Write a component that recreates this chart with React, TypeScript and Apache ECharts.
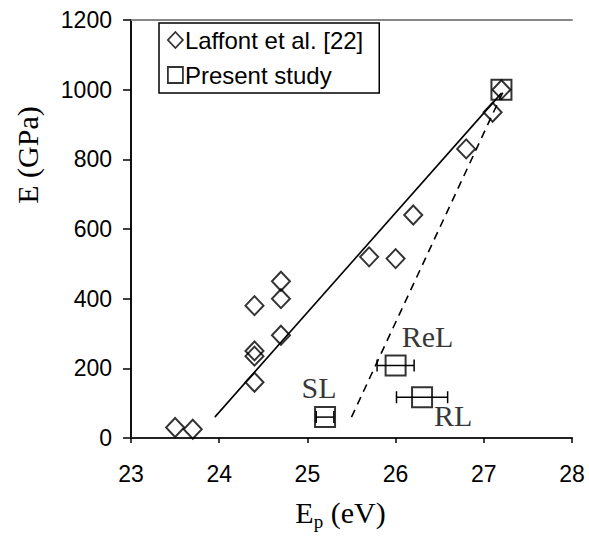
import React, { useEffect, useRef } from "react";
import * as echarts from "echarts";

const laffontEp = [23.5, 23.7, 24.4, 24.4, 24.4, 24.4, 24.7, 24.7, 24.7, 25.7, 26.0, 26.2, 26.8, 27.1, 27.2];
const laffontE = [30, 25, 160, 235, 250, 380, 295, 400, 450, 520, 515, 640, 830, 935, 1000];

const presentNames = ["SL", "ReL", "RL", ""];
const presentEp = [25.2, 26.0, 26.3, 27.2];
const presentE = [60, 208, 117, 1000];
const presentErr = [0.1, 0.21, 0.29, 0];

const solidFitEp = [23.95, 27.2];
const solidFitE = [60, 990];
const dashedFitEp = [25.5, 27.22];
const dashedFitE = [60, 995];

const xTicks = [23, 24, 25, 26, 27, 28];
const yTicks = [0, 200, 400, 600, 800, 1000, 1200];

const labelOffsets: [number, number][] = [[-6, -30], [32, -29], [31, 18], [0, 0]];

const SANS = 'Arial, "Liberation Sans", sans-serif';
const SERIF = '"Times New Roman", "Liberation Serif", serif';

export default function App() {
  const ref = useRef<HTMLDivElement>(null);
  useEffect(() => {
    if (!ref.current) return;
    const chart = echarts.init(ref.current, undefined, { renderer: "svg" });
    const hollow = { color: "transparent", borderColor: "#000", borderWidth: 1.8 };
    const option: any = {
      animation: false,
      backgroundColor: "#fff",
      grid: { left: 131, right: 17, top: 20, bottom: 96, containLabel: false },
      legend: {
        orient: "vertical",
        left: 159,
        top: 23,
        padding: [5, 16, 6, 8],
        itemGap: 11,
        itemWidth: 15,
        itemHeight: 16,
        borderColor: "#000",
        borderWidth: 1.5,
        backgroundColor: "#fff",
        textStyle: { fontFamily: SANS, fontSize: 24, color: "#000", padding: [0, 0, 0, -3] },
        data: [
          { name: "Laffont et al. [22]", icon: "diamond", itemStyle: hollow },
          { name: "Present study", icon: "rect", itemStyle: hollow },
        ],
      },
      xAxis: [
        {
          type: "value",
          min: xTicks[0],
          max: xTicks[xTicks.length - 1],
          interval: 1,
          position: "bottom",
          axisLine: { show: true, onZero: false, lineStyle: { color: "#222", width: 2 } },
          axisTick: { show: true, inside: false, length: 5, lineStyle: { color: "#000", width: 1.5 } },
          axisLabel: { fontFamily: SANS, fontSize: 23, color: "#000", margin: 24, formatter: (v: number) => String(v) },
          splitLine: { show: false },
          name: "{e|E}{s|p}{e| (eV)}",
          nameLocation: "middle",
          nameGap: 56,
          nameTextStyle: {
            padding: [0, 22, 0, 0],
            rich: {
              e: { fontFamily: SERIF, fontSize: 30, color: "#000" },
              s: { fontFamily: SERIF, fontSize: 19, color: "#000", padding: [18, 0, 0, 0] },
            },
          },
        },
        {
          type: "value",
          min: xTicks[0],
          max: xTicks[xTicks.length - 1],
          position: "top",
          axisLine: { show: true, onZero: false, lineStyle: { color: "#888", width: 2 } },
          axisTick: { show: false },
          axisLabel: { show: false },
          splitLine: { show: false },
        },
      ],
      yAxis: {
        type: "value",
        min: yTicks[0],
        max: yTicks[yTicks.length - 1],
        interval: 200,
        axisLine: { show: true, onZero: false, lineStyle: { color: "#111", width: 2 } },
        axisTick: { show: true, inside: false, length: 8, lineStyle: { color: "#000", width: 1.5 } },
        axisLabel: { fontFamily: SANS, fontSize: 23, color: "#000", margin: 19, formatter: (v: number) => String(v) },
        splitLine: { show: false },
      },
      graphic: [
        {
          type: "text",
          x: 27,
          y: 155,
          rotation: Math.PI / 2,
          style: {
            text: "E (GPa)",
            fontFamily: SERIF,
            fontSize: 30,
            fill: "#000",
            align: "center",
            verticalAlign: "middle",
          },
        },
      ],
      series: [
        {
          name: "fit-solid",
          type: "line",
          data: solidFitEp.map((x, i) => [x, solidFitE[i]]),
          showSymbol: false,
          symbol: "none",
          lineStyle: { color: "#000", width: 1.6, type: "solid" },
          z: 1,
        },
        {
          name: "fit-dashed",
          type: "line",
          data: dashedFitEp.map((x, i) => [x, dashedFitE[i]]),
          showSymbol: false,
          symbol: "none",
          lineStyle: { color: "#000", width: 1.6, type: [8, 6] },
          z: 1,
        },
        {
          name: "Laffont et al. [22]",
          type: "scatter",
          symbol: "diamond",
          symbolSize: [18, 19],
          itemStyle: { color: "transparent", borderColor: "#000", borderWidth: 2 },
          data: laffontEp.map((x, i) => [x, laffontE[i]]),
          z: 3,
        },
        {
          name: "errors",
          type: "custom",
          data: presentEp.map((x, i) => [x, presentE[i], presentErr[i]]),
          renderItem: (params: any, api: any) => {
            const x = api.value(0);
            const y = api.value(1);
            const e = api.value(2);
            if (!e) return { type: "group", children: [] };
            const lo = api.coord([x - e, y]);
            const hi = api.coord([x + e, y]);
            const st = { stroke: "#000", lineWidth: 1.5 };
            return {
              type: "group",
              children: [
                { type: "line", shape: { x1: lo[0], y1: lo[1], x2: hi[0], y2: hi[1] }, style: st },
                { type: "line", shape: { x1: lo[0], y1: lo[1] - 6, x2: lo[0], y2: lo[1] + 6 }, style: st },
                { type: "line", shape: { x1: hi[0], y1: hi[1] - 6, x2: hi[0], y2: hi[1] + 6 }, style: st },
              ],
            };
          },
          z: 2,
        },
        {
          name: "Present study",
          type: "scatter",
          symbol: "rect",
          symbolSize: 20,
          itemStyle: { color: "transparent", borderColor: "#000", borderWidth: 2 },
          data: presentEp.map((x, i) => ({
            value: [x, presentE[i]],
            name: presentNames[i],
            label: {
              show: presentNames[i] !== "",
              formatter: presentNames[i],
              position: "inside",
              offset: labelOffsets[i],
              fontFamily: SERIF,
              fontSize: 30,
              color: "#000",
              textBorderWidth: 0,
              textBorderColor: "transparent",
            },
          })),
          z: 4,
        },
      ],
    };
    chart.setOption(option);
    return () => chart.dispose();
  }, []);
  return <div ref={ref} style={{ width: 589, height: 536, position: "absolute", left: 0, top: 0 }} />;
}
